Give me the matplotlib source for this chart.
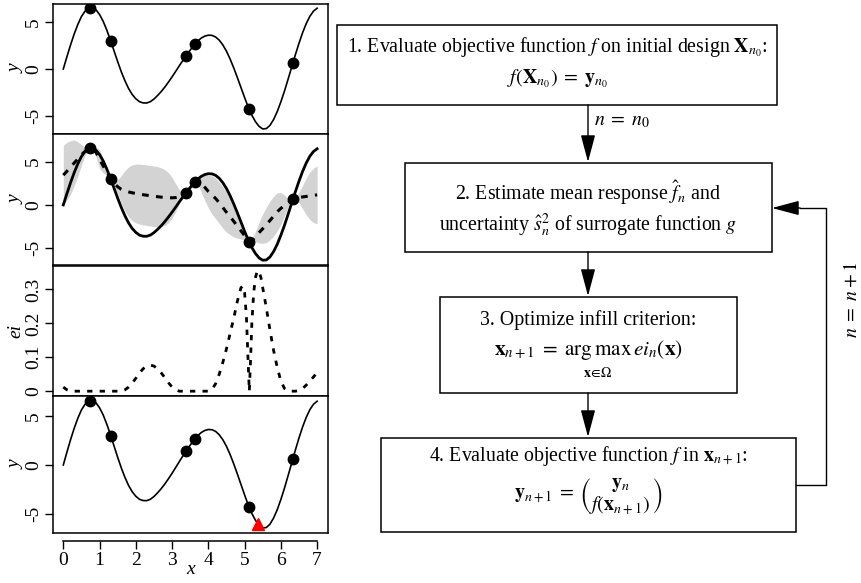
import numpy as np
import matplotlib
matplotlib.use("Agg")
import matplotlib.pyplot as plt
from matplotlib.patches import Rectangle, ArrowStyle

plt.rcParams['font.family'] = ['Liberation Serif', 'DejaVu Serif']
plt.rcParams['mathtext.fontset'] = 'stix'
plt.rcParams['axes.unicode_minus'] = False

# ---- data ----
x_grid = np.linspace(0, 7, 71)
f_true = [0.00, 1.31, 2.57, 3.73, 4.75, 5.60, 6.18, 6.51, 6.57, 6.33,
          5.82, 5.09, 4.15, 3.09, 1.93, 0.78, -0.30, -1.26, -2.08, -2.72,
          -3.18, -3.49, -3.62, -3.63, -3.49, -3.21, -2.83, -2.41, -1.93, -1.40,
          -0.84, -0.25, 0.35, 0.93, 1.49, 2.02, 2.52, 2.95, 3.29, 3.51,
          3.61, 3.59, 3.42, 3.08, 2.57, 1.90, 1.07, 0.12, -0.91, -1.98,
          -3.05, -4.06, -4.93, -5.63, -6.13, -6.40, -6.36, -6.02, -5.39, -4.55,
          -3.51, -2.35, -1.08, 0.22, 1.52, 2.75, 3.88, 4.85, 5.63, 6.18,
          6.49]
gp_mean = [3.44, 3.90, 4.35, 4.85, 5.30, 5.80, 6.20, 6.50, 6.50, 6.10,
           5.30, 4.50, 3.75, 3.05, 2.50, 2.10, 1.80, 1.62, 1.50, 1.40,
           1.32, 1.25, 1.18, 1.12, 1.06, 1.00, 0.95, 0.90, 0.86, 0.83,
           0.82, 0.85, 0.95, 1.15, 1.45, 1.95, 2.50, 2.70, 2.50, 2.05,
           1.55, 1.15, 0.75, 0.25, -0.30, -0.85, -1.35, -1.90, -2.45, -3.00,
           -3.55, -4.15, -4.15, -3.65, -3.20, -2.75, -2.30, -1.80, -1.30, -0.80,
           -0.40, -0.05, 0.25, 0.55, 0.75, 0.85, 0.92, 0.98, 1.05, 1.10,
           1.16]
gp_spread = [3.45, 3.33, 3.08, 2.65, 1.99, 1.20, 0.47, 0.04, 0.09, 0.55,
             1.10, 0.80, 0.29, 0.00, 0.20, 0.81, 1.60, 2.35, 2.89, 3.22,
             3.39, 3.47, 3.49, 3.50, 3.50, 3.50, 3.47, 3.39, 3.22, 2.89,
             2.35, 1.60, 0.81, 0.20, 0.00, 0.25, 0.02, 0.12, 1.00, 1.50,
             1.90, 2.20, 2.35, 2.40, 2.40, 2.30, 2.10, 1.80, 1.40, 0.95,
             0.45, 0.02, 0.12, 0.60, 1.20, 1.70, 2.05, 2.25, 2.30, 2.20,
             1.85, 1.20, 0.47, 0.04, 0.09, 0.60, 1.36, 2.13, 2.75, 3.14,
             3.36]

x_design = [0.74, 1.31, 3.39, 3.63, 5.13, 6.34]
y_design = [6.55, 2.99, 1.42, 2.67, -4.31, 0.64]
x_new, y_new = 5.38, -5.98

ei_x = [0.0, 0.1, 0.2, 1.6, 1.7, 1.8, 1.9, 2.0, 2.1, 2.2, 2.3, 2.4, 2.5, 2.6,
        2.7, 2.8, 2.9, 3.0, 3.1, 3.2, 4.0, 4.1, 4.2, 4.3, 4.4, 4.5, 4.6, 4.7,
        4.8, 4.9, 4.95, 5.0, 5.05, 5.1, 5.13, 5.16, 5.2, 5.25, 5.3, 5.35, 5.4,
        5.45, 5.5, 5.6, 5.7, 5.8, 5.9, 6.0, 6.1, 6.2, 6.4, 6.5, 6.6, 6.7,
        6.8, 6.9, 7.0]
ei_y = [0.012, 0.004, 0.0, 0.0, 0.004, 0.012, 0.024, 0.038, 0.053, 0.066,
        0.074, 0.077, 0.074, 0.066, 0.054, 0.040, 0.025, 0.012, 0.004, 0.0,
        0.0, 0.005, 0.022, 0.050, 0.085, 0.125, 0.170, 0.215, 0.265, 0.305,
        0.310, 0.290, 0.220, 0.080, 0.0, 0.080, 0.200, 0.290, 0.335, 0.355,
        0.352, 0.335, 0.305, 0.245, 0.180, 0.120, 0.070, 0.030, 0.008, 0.0,
        0.0, 0.002, 0.008, 0.018, 0.030, 0.042, 0.055]

x_ticks = [0, 1, 2, 3, 4, 5, 6, 7]
y_ticks = [-5, 0, 5]
ei_ticks = [0, 0.1, 0.2, 0.3]
ei_ticklabels = ['0', '0.1', '0.2', '0.3']

FS = 14
XLIM = (-0.284, 7.30)

fig = plt.figure(figsize=(8.62, 5.83), dpi=100)
L, W = 53 / 862, 275 / 862


def panel(top, bottom):
    return fig.add_axes([L, 1 - bottom / 583, W, (bottom - top) / 583])


def style(ax, ylim, yticks, ylabels, ylabel):
    ax.set_xlim(*XLIM)
    ax.set_ylim(*ylim)
    ax.set_xticks([])
    ax.set_yticks(yticks)
    ax.set_yticklabels(ylabels, fontsize=FS)
    for lab in ax.get_yticklabels():
        lab.set_rotation(90)
        lab.set_va('center')
    ax.tick_params(axis='y', direction='out', length=6, width=1, pad=2)
    ax.set_ylabel(ylabel, fontsize=FS, fontstyle='italic', labelpad=0)
    for sp in ax.spines.values():
        sp.set_linewidth(1.1)


# panel 1: true function with initial design
ax1 = panel(4, 134)
ax1.plot(x_grid, f_true, color='black', lw=1.2)
ax1.plot(x_design, y_design, 'o', color='black', ms=7.5)
style(ax1, (-6.94, 6.94), y_ticks, ['-5', '0', '5'], 'y')

# panel 2: surrogate mean and uncertainty band
ax2 = panel(134, 265)
m = np.array(gp_mean)
s = np.array(gp_spread)
ax2.fill_between(x_grid, m - s, m + s, color='#d3d3d3', lw=0)
ax2.plot(x_grid, f_true, color='black', lw=2)
ax2.plot(x_grid, gp_mean, color='black', lw=2.2, dashes=(2.2, 2.4))
ax2.plot(x_design, y_design, 'o', color='black', ms=7.5)
style(ax2, (-6.95, 8.2), y_ticks, ['-5', '0', '5'], 'y')

# panel 3: expected improvement
ax3 = panel(266, 396)
ax3.plot(ei_x, ei_y, color='black', lw=2, dashes=(1.9, 2.6))
style(ax3, (-0.0142, 0.369), ei_ticks, ei_ticklabels, 'ei')

# panel 4: true function with proposed point
ax4 = panel(396, 533)
ax4.plot(x_grid, f_true, color='black', lw=1.2)
ax4.plot(x_design, y_design, 'o', color='black', ms=7.5)
ax4.plot([x_new], [y_new], '^', color='red', ms=8)
style(ax4, (-6.92, 7.02), y_ticks, ['-5', '0', '5'], 'y')
sec = ax4.secondary_xaxis(-0.058)
sec.set_xticks(x_ticks)
sec.set_xticklabels([str(t) for t in x_ticks], fontsize=FS)
sec.tick_params(direction='out', length=6, width=1, pad=2)
sec.spines['bottom'].set_bounds(0, 7)
sec.spines['bottom'].set_linewidth(1.1)
sec.set_xlabel('x', fontsize=FS, fontstyle='italic', labelpad=-6)

# ---- flowchart ----
fa = fig.add_axes([0, 0, 1, 1])
fa.set_xlim(0, 862)
fa.set_ylim(583, 0)
fa.axis('off')


def box(x0, x1, y0, y1):
    fa.add_patch(Rectangle((x0, y0), x1 - x0, y1 - y0, fill=False,
                           edgecolor='black', lw=1.1))


def arrow(start, tip):
    fa.annotate('', xy=tip, xytext=start,
                arrowprops=dict(arrowstyle=ArrowStyle('-|>', head_length=0.6, head_width=0.16),
                                mutation_scale=28, color='black', lw=1,
                                shrinkA=0, shrinkB=0))


FB = 14.3
box(337, 777, 25, 105)
fa.text(557, 47, r'1. Evaluate objective function $f$ on initial design $\mathbf{X}_{n_0}$:',
        ha='center', va='center', fontsize=FB)
fa.text(557, 79, r'$f(\mathbf{X}_{n_0})\;=\;\mathbf{y}_{n_0}$', ha='center', va='center', fontsize=FB)

arrow((588, 105), (588, 162))
fa.text(594, 121, r'$n\;=\;n_0$', ha='left', va='center', fontsize=FB)

box(405, 772, 163, 252)
fa.text(588, 193, r'2. Estimate mean response $\hat{f}_n$ and', ha='center', va='center', fontsize=FB)
fa.text(588, 225, r'uncertainty $\hat{s}^2_n$ of surrogate function $g$', ha='center', va='center', fontsize=FB)

arrow((588, 252), (588, 296))

box(440, 737, 297, 393)
fa.text(588, 320, '3. Optimize infill criterion:', ha='center', va='center', fontsize=FB)
fa.text(588, 350, r'$\mathbf{x}_{n+1}\;=\;\mathrm{arg\,max}\,ei_n(\mathbf{x})$',
        ha='center', va='center', fontsize=FB + 1)
fa.text(597, 373, r'$\mathbf{x}\!\in\!\Omega$', ha='center', va='center', fontsize=10)

arrow((588, 393), (588, 437))

box(381, 796, 438, 532)
fa.text(588, 456, r'4. Evaluate objective function $f$ in $\mathbf{x}_{n+1}$:', ha='center', va='center', fontsize=FB)
fa.text(588, 497, r'$\mathbf{y}_{n+1}\;=\;\genfrac{(}{)}{0}{0}{\mathbf{y}_n}{f(\mathbf{x}_{n+1})}$',
        ha='center', va='center', fontsize=FB)

fa.plot([796, 826, 826, 800], [485, 485, 208, 208], color='black', lw=1)
arrow((800, 208), (772, 208))
fa.text(852, 300, r'$n\;=\;n+1$', ha='center', va='center', rotation=90, fontsize=FB)

fig.savefig('out.png', dpi=100)
